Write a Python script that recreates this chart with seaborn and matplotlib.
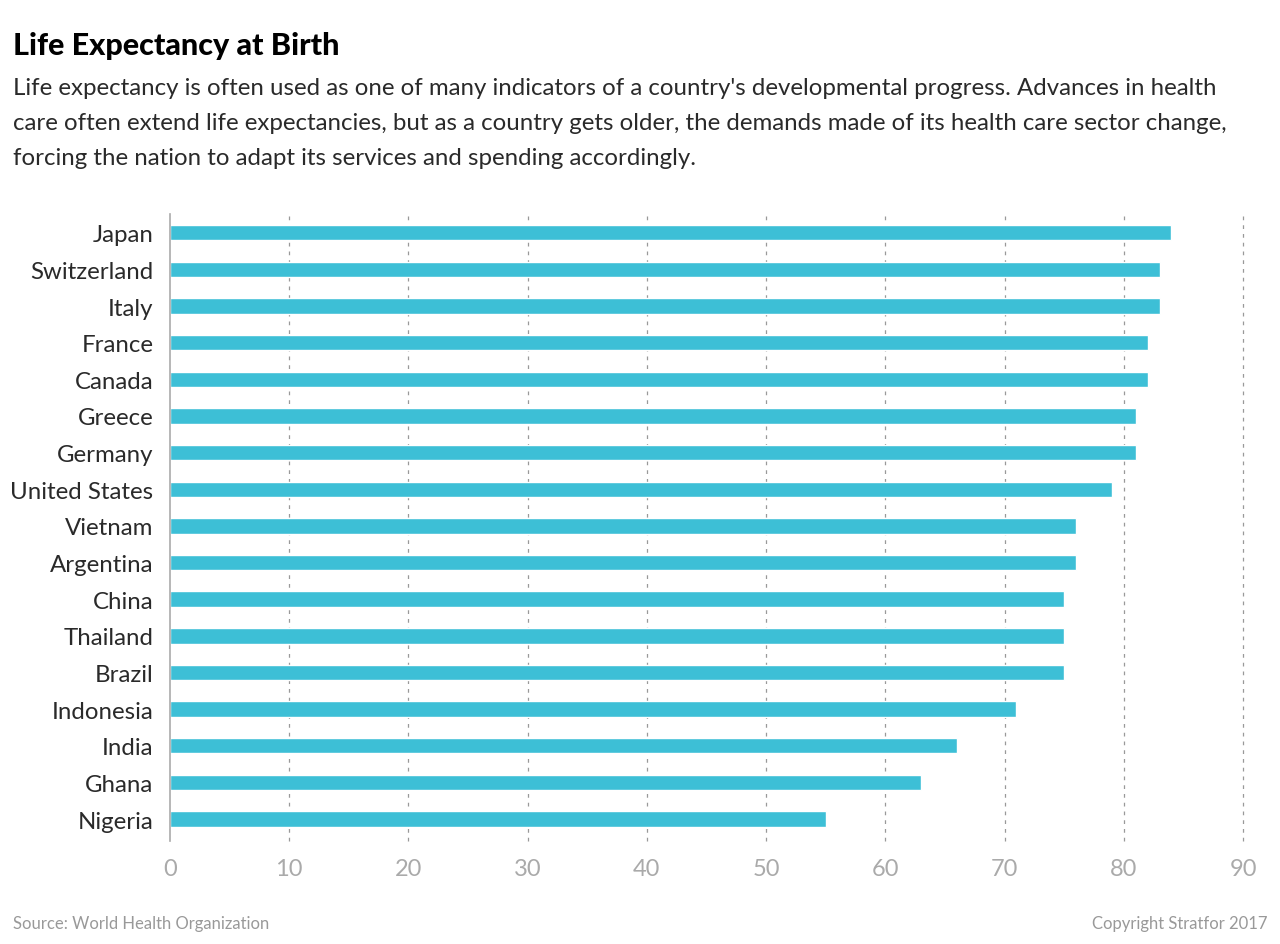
import matplotlib
matplotlib.use('Agg')
import matplotlib.pyplot as plt
import seaborn as sns
import pandas as pd

# Data
countries = ['Japan', 'Switzerland', 'Italy', 'France', 'Canada', 'Greece', 'Germany',
             'United States', 'Vietnam', 'Argentina', 'China', 'Thailand', 'Brazil',
             'Indonesia', 'India', 'Ghana', 'Nigeria']
life_expectancy = [84, 83, 83, 82, 82, 81, 81, 79, 76, 76, 75, 75, 75, 71, 66, 63, 55]
x_ticks = [0, 10, 20, 30, 40, 50, 60, 70, 80, 90]

df = pd.DataFrame({'country': countries, 'years': life_expectancy})

sns.set_theme(style='white')
plt.rcParams['font.family'] = ['Lato', 'DejaVu Sans']

fig = plt.figure(figsize=(12.8, 9.45), dpi=100)
ax = fig.add_axes([0.1328, 0.109, 0.8383, 0.663])

sns.barplot(data=df, x='years', y='country', color='#3DBFD6', saturation=1,
            width=0.42, ax=ax)

ax.set_xlim(0, 90)
ax.set_ylim(16.6, -0.5)
ax.set_xticks(x_ticks)
ax.set_xlabel('')
ax.set_ylabel('')

# dashed vertical gridlines
for t in x_ticks[1:]:
    ax.axvline(t, color='#999999', linestyle=(0, (3, 4)), linewidth=0.9,
               zorder=0, clip_on=False)

for side in ['top', 'right', 'bottom']:
    ax.spines[side].set_visible(False)
ax.spines['left'].set_color('#aaaaaa')
ax.spines['left'].set_linewidth(1.2)

ax.tick_params(axis='y', length=0, pad=12, labelsize=17.3, labelcolor='#2a2a2a')
ax.tick_params(axis='x', length=0, pad=12, labelsize=17, labelcolor='#aaaaaa')

# Titles and footer
fig.text(0.010, 0.951, 'Life Expectancy at Birth', fontsize=22, fontweight='black',
         color='#000000', va='center', ha='left')
subtitle = ("Life expectancy is often used as one of many indicators of a country's developmental progress. Advances in health\n"
            "care often extend life expectancies, but as a country gets older, the demands made of its health care sector change,\n"
            "forcing the nation to adapt its services and spending accordingly.")
fig.text(0.010, 0.917, subtitle, fontsize=17.3, color='#2a2a2a',
         va='top', ha='left', linespacing=1.82)
fig.text(0.010, 0.022, 'Source: World Health Organization', fontsize=12,
         color='#999999', va='center', ha='left')
fig.text(0.990, 0.022, 'Copyright Stratfor 2017', fontsize=12,
         color='#999999', va='center', ha='right')

fig.savefig('out.png', dpi=100, facecolor='white')
